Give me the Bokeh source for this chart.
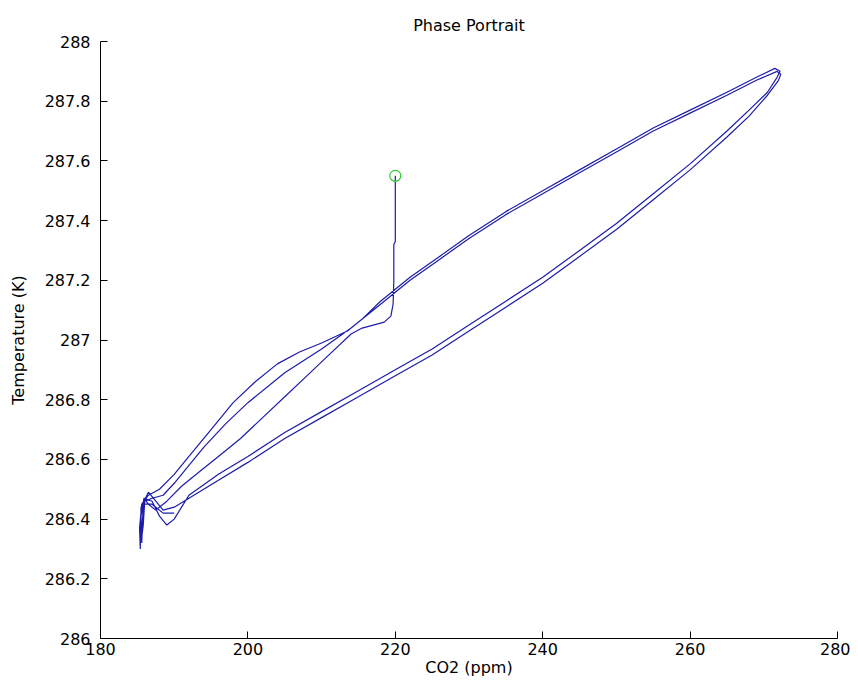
from bokeh.plotting import figure
from bokeh.models import FixedTicker, ColumnDataSource
from bokeh.embed import file_html
from bokeh.resources import INLINE

# ---- data ----
x_ticks = [180, 200, 220, 240, 260, 280]
x_tick_labels = ["180", "200", "220", "240", "260", "280"]
y_ticks = [286.0, 286.2, 286.4, 286.6, 286.8, 287.0, 287.2, 287.4, 287.6, 287.8, 288.0]
y_tick_labels = ["286", "286.2", "286.4", "286.6", "286.8", "287", "287.2", "287.4", "287.6", "287.8", "288"]

start_co2 = [220.0]
start_temp = [287.55]

co2 = [
    # start, vertical drop, hook, lower lens line, spike 1
    220.0, 220.0, 220.0, 219.8, 219.8, 219.7, 219.4, 218.5, 217.0, 215.5, 214.0,
    211.0, 208.0, 205.0, 202.0, 199.0, 196.0, 193.5, 191.0, 189.0, 187.5, 186.5,
    185.9, 185.7, 185.6, 185.5, 185.9, 187.0, 188.0, 189.0, 190.0, 191.0,
    # lower edge, pass 1
    192, 196, 200, 205, 210, 215, 220, 225, 230, 235, 240, 245, 250, 255, 260,
    265, 268, 270.5, 271.8, 272.2,
    # upper edge, pass 1
    271.5, 269, 265, 260, 255, 250, 245, 240, 235, 230, 226, 222, 218, 215.5, 213.5,
    # bulge, spike 2
    210, 207, 204, 201, 198, 195, 192, 190, 188, 186.5, 185.6, 185.3, 185.4, 185.5,
    186.5, 187.5, 188.5, 190,
    # lower edge, pass 2
    192, 196, 200, 205, 210, 215, 220, 225, 230, 235, 240, 245, 250, 255, 260,
    265, 268, 270.5, 272, 272.3,
    # upper edge, pass 2, spike 3
    271.8, 269, 265, 260, 255, 250, 245, 240, 235, 230, 226, 222, 218, 214, 210,
    205, 200, 197, 194, 192, 190, 188.5, 187, 186, 185.8, 185.6, 185.8, 187,
    188.5, 190,
]
temp = [
    287.55, 287.44, 287.33, 287.32, 287.20, 287.12, 287.08, 287.06, 287.05, 287.04, 287.02,
    286.95, 286.88, 286.81, 286.74, 286.67, 286.61, 286.56, 286.51, 286.46, 286.43, 286.45,
    286.47, 286.39, 286.32, 286.41, 286.47, 286.46, 286.41, 286.38, 286.40, 286.44,
    286.48, 286.55, 286.61, 286.69, 286.76, 286.83, 286.90, 286.97, 287.05, 287.13,
    287.21, 287.30, 287.39, 287.49, 287.59, 287.70, 287.77, 287.83, 287.88, 287.90,
    287.91, 287.88, 287.83, 287.77, 287.71, 287.64, 287.57, 287.50, 287.43, 287.35,
    287.28, 287.21, 287.13, 287.07, 287.03,
    286.99, 286.96, 286.92, 286.86, 286.79, 286.70, 286.61, 286.55, 286.50, 286.48,
    286.45, 286.37, 286.30, 286.44, 286.49, 286.46, 286.43, 286.44,
    286.47, 286.53, 286.59, 286.67, 286.74, 286.81, 286.88, 286.95, 287.03, 287.11,
    287.19, 287.28, 287.37, 287.47, 287.57, 287.68, 287.75, 287.82, 287.87, 287.89,
    287.90, 287.87, 287.82, 287.76, 287.70, 287.63, 287.56, 287.49, 287.42, 287.34,
    287.27, 287.20, 287.12, 287.04, 286.97, 286.89, 286.79, 286.72, 286.64, 286.58,
    286.52, 286.48, 286.47, 286.46, 286.38, 286.34, 286.45, 286.45, 286.42, 286.42,
]

FONT = "DejaVu Sans"

p = figure(width=850, height=679, x_range=(180, 280), y_range=(286, 288),
           output_backend="svg", toolbar_location=None,
           min_border_left=100, min_border_right=13, min_border_top=41, min_border_bottom=40)
p.grid.visible = False
p.outline_line_color = None
p.background_fill_color = "white"
p.border_fill_color = "white"

p.title.text = "Phase Portrait"
p.title.align = "center"
p.title.vertical_align = "top"
p.title.text_font = FONT
p.title.text_font_size = "16px"
p.title.text_font_style = "normal"
p.title.text_color = "black"
p.title.standoff = 10

src = ColumnDataSource(data=dict(x=co2, y=temp))
p.line("x", "y", source=src, line_color="#1c1caa", line_width=1.2)
p.scatter(start_co2, start_temp, marker="circle", size=11, fill_color=None,
          line_color="#2ecc2e", line_width=1.2)

for ax, ticks, labels, lab in ((p.xaxis[0], x_ticks, x_tick_labels, "CO2 (ppm)"),
                               (p.yaxis[0], y_ticks, y_tick_labels, "Temperature (K)")):
    ax.ticker = FixedTicker(ticks=ticks)
    ax.major_label_overrides = {t: l for t, l in zip(ticks, labels)}
    ax.axis_label = lab
    ax.axis_label_text_font = FONT
    ax.axis_label_text_font_size = "16px"
    ax.axis_label_text_font_style = "normal"
    ax.axis_label_text_color = "black"
    ax.major_label_text_font = FONT
    ax.major_label_text_font_size = "16px"
    ax.major_label_text_color = "black"
    ax.major_tick_in = 7
    ax.major_tick_out = 0
    ax.minor_tick_in = 0
    ax.minor_tick_out = 0
    ax.axis_line_color = "black"
    ax.major_tick_line_color = "black"

p.xaxis.major_label_standoff = 4
p.xaxis.axis_label_standoff = 0
p.yaxis.major_label_standoff = 10
p.yaxis.axis_label_standoff = 14

open("out.html", "w").write(file_html(p, INLINE))
